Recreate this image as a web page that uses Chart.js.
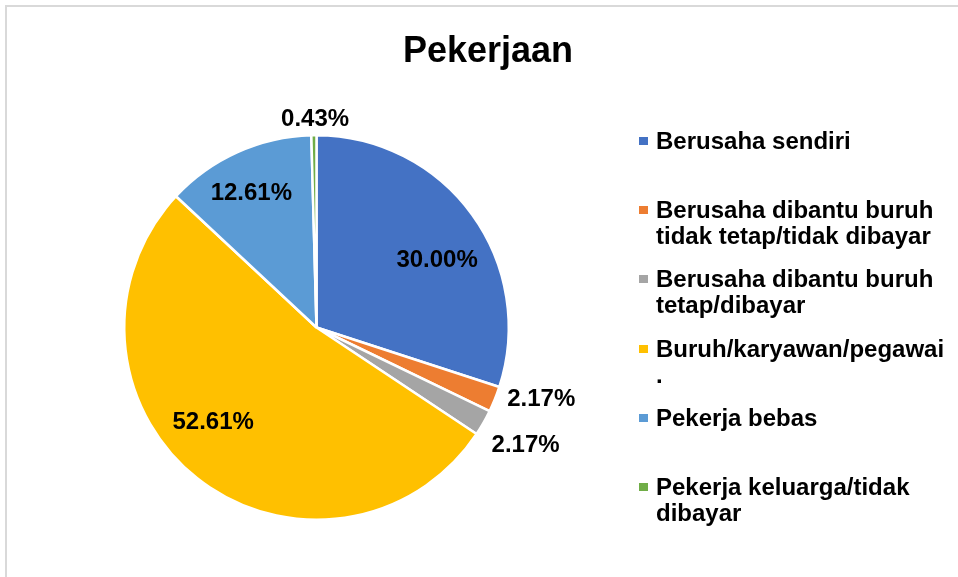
<!DOCTYPE html>
<html><head><meta charset="utf-8">
<script src="https://cdn.jsdelivr.net/npm/chart.js@4.4.1/dist/chart.umd.min.js"></script>
<style>
html,body{margin:0;padding:0;background:#fff;}
#wrap{position:relative;width:958px;height:577px;overflow:hidden;background:#fff;font-family:"Liberation Sans",Arial,sans-serif;color:#000;}
#frame{position:absolute;left:5px;top:5px;right:-10px;bottom:-10px;border-top:2px solid #d9d9d9;border-left:2px solid #d9d9d9;}
#title{position:absolute;left:388px;width:200px;top:28px;text-align:center;font-weight:bold;font-size:36px;line-height:44px;}
#c{position:absolute;left:0;top:0;}
#legend{position:absolute;left:639px;top:128px;}
.item{position:relative;height:69.2px;}
.mk{position:absolute;left:0;top:9px;width:9px;height:8px;}
.tx{position:absolute;left:17px;top:0;font-weight:bold;font-size:24px;line-height:26px;white-space:nowrap;}
</style></head>
<body>
<div id="wrap">
<div id="frame"></div>
<canvas id="c" width="958" height="577"></canvas>
<div id="title"></div>
<div id="legend"></div>
</div>
<script>
const chartTitle = "Pekerjaan";
const categories = [
  "Berusaha sendiri",
  "Berusaha dibantu buruh tidak tetap/tidak dibayar",
  "Berusaha dibantu buruh tetap/dibayar",
  "Buruh/karyawan/pegawai .",
  "Pekerja bebas",
  "Pekerja keluarga/tidak dibayar"
];
const legendLines = [
  ["Berusaha sendiri"],
  ["Berusaha dibantu buruh", "tidak tetap/tidak dibayar"],
  ["Berusaha dibantu buruh", "tetap/dibayar"],
  ["Buruh/karyawan/pegawai", "."],
  ["Pekerja bebas"],
  ["Pekerja keluarga/tidak", "dibayar"]
];
const percentages = [30.00, 2.17, 2.17, 52.61, 12.61, 0.43];
const colors = ["#4472C4", "#ED7D31", "#A5A5A5", "#FFC000", "#5B9BD5", "#70AD47"];
// label placement style: angle shift (deg) from slice middle, distance as fraction of radius
const labelShift = [6.6, -4.5, -0.6, 9.5, -1.5, 0.4];
const labelDist = [0.72, 1.225, 1.245, 0.725, 0.78, 1.09];

document.getElementById('title').textContent = chartTitle;
const lg = document.getElementById('legend');
legendLines.forEach((lines, i) => {
  const it = document.createElement('div'); it.className = 'item';
  const mk = document.createElement('div'); mk.className = 'mk'; mk.style.background = colors[i];
  const tx = document.createElement('div'); tx.className = 'tx'; tx.innerHTML = lines.map(s => s.replace(/&/g,'&amp;').replace(/</g,'&lt;')).join('<br>');
  it.appendChild(mk); it.appendChild(tx); lg.appendChild(it);
});

const labelPlugin = {
  id: 'pctLabels',
  afterDatasetsDraw(chart) {
    const ctx = chart.ctx;
    const meta = chart.getDatasetMeta(0);
    ctx.save();
    ctx.font = 'bold 24px "Liberation Sans", Arial, sans-serif';
    ctx.fillStyle = '#000';
    ctx.textAlign = 'center';
    ctx.textBaseline = 'middle';
    meta.data.forEach((arc, i) => {
      const p = arc.getProps(['x','y','startAngle','endAngle','outerRadius'], true);
      const a = (p.startAngle + p.endAngle) / 2 + labelShift[i] * Math.PI / 180;
      const d = p.outerRadius * labelDist[i];
      ctx.fillText(percentages[i].toFixed(2) + '%', p.x + Math.cos(a) * d, p.y + Math.sin(a) * d + 1);
    });
    ctx.restore();
  }
};

new Chart(document.getElementById('c'), {
  type: 'pie',
  data: {
    labels: categories,
    datasets: [{
      data: percentages,
      backgroundColor: colors,
      borderColor: '#ffffff',
      borderWidth: 2.5
    }]
  },
  options: {
    responsive: false,
    animation: false,
    events: [],
    layout: { padding: { left: 123, top: 134, right: 448, bottom: 56 } },
    plugins: { legend: { display: false }, tooltip: { enabled: false }, title: { display: false } }
  },
  plugins: [labelPlugin]
});
</script>
</body></html>
